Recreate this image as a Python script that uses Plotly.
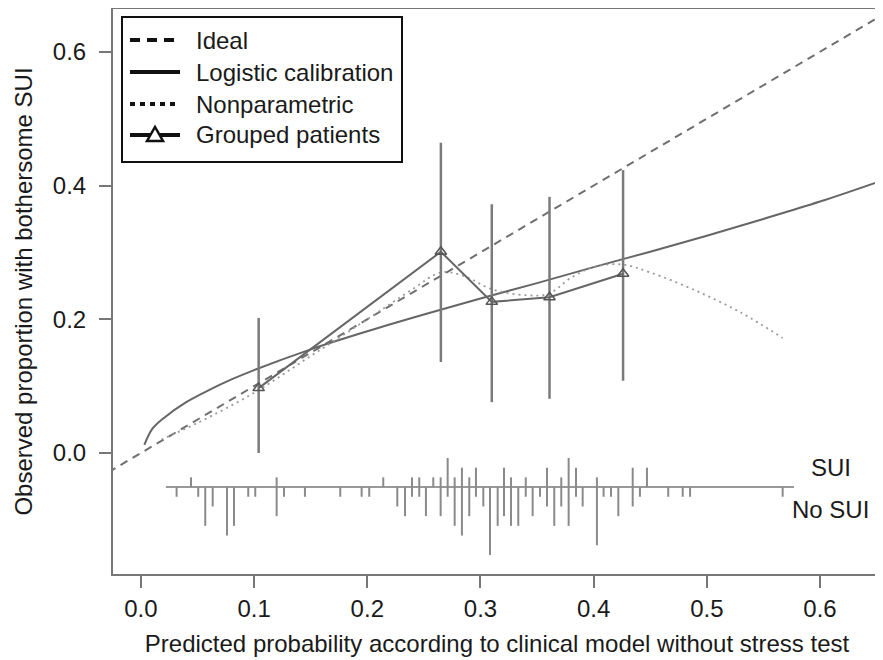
import plotly.graph_objects as go

# ---------------- data ----------------
ideal_x = [-0.05, 0.70]

logcal_x = [0.003, 0.01, 0.02, 0.04, 0.06, 0.08, 0.10, 0.15, 0.20, 0.25, 0.30,
            0.35, 0.40, 0.45, 0.50, 0.55, 0.60, 0.654]
logcal_y = [0.012, 0.036, 0.052, 0.076, 0.094, 0.110, 0.124, 0.155, 0.182, 0.207,
            0.231, 0.254, 0.278, 0.301, 0.325, 0.350, 0.376, 0.407]

nonpar_x = [0.018, 0.05, 0.10, 0.15, 0.20, 0.24, 0.265, 0.285, 0.31, 0.34, 0.36,
            0.38, 0.40, 0.425, 0.45, 0.49, 0.53, 0.567]
nonpar_y = [0.020, 0.045, 0.090, 0.145, 0.200, 0.245, 0.270, 0.265, 0.245, 0.236,
            0.238, 0.262, 0.278, 0.282, 0.270, 0.243, 0.210, 0.172]

group_x = [0.104, 0.265, 0.310, 0.361, 0.426]
group_y = [0.097, 0.301, 0.226, 0.233, 0.268]
group_lo = [0.000, 0.136, 0.076, 0.081, 0.108]
group_hi = [0.202, 0.464, 0.372, 0.383, 0.423]

# spike histogram of predicted probabilities: counts above (SUI) / below (No SUI)
spike_x = [0.0315, 0.0442, 0.0506, 0.0568, 0.0634, 0.0760, 0.0822, 0.0948, 0.1010,
           0.1199, 0.1264, 0.1449, 0.1761, 0.1950, 0.2017, 0.2141, 0.2265, 0.2333,
           0.2395, 0.2459, 0.2518, 0.2583, 0.2648, 0.2710, 0.2772, 0.2836, 0.2901,
           0.2960, 0.3025, 0.3084, 0.3152, 0.3208, 0.3270, 0.3334, 0.3400, 0.3461,
           0.3526, 0.3588, 0.3652, 0.3714, 0.3779, 0.3844, 0.3903, 0.4029, 0.4088,
           0.4153, 0.4218, 0.4345, 0.4409, 0.4471, 0.4659, 0.4787, 0.4852, 0.5670]
spike_up = [0, 1, 0, 0, 0, 0, 0, 0, 0,
            1, 0, 0, 0, 0, 0, 1, 0, 0,
            1, 1, 0, 1, 1, 3, 1, 2, 1,
            2, 0, 0, 0, 2, 1, 0, 1, 0,
            0, 2, 0, 1, 3, 2, 0, 1, 0,
            0, 0, 2, 0, 2, 0, 0, 0, 0]
spike_down = [1, 0, 1, 4, 2, 5, 4, 1, 1,
              3, 1, 1, 1, 1, 1, 0, 2, 3,
              1, 1, 3, 0, 3, 1, 4, 5, 3,
              1, 2, 7, 4, 3, 4, 4, 1, 3,
              1, 2, 4, 2, 4, 1, 2, 6, 1,
              1, 3, 2, 1, 0, 1, 1, 1, 1]
spike_range = [0.022, 0.577]
spike_base = -0.051
spike_unit = 0.0145

x_ticks = [0.0, 0.1, 0.2, 0.3, 0.4, 0.5, 0.6]
y_ticks = [0.0, 0.2, 0.4, 0.6]
x_title = "Predicted probability according to clinical model without stress test"
y_title = "Observed proportion with bothersome SUI"
legend_labels = ["Ideal", "Logistic calibration", "Nonparametric", "Grouped patients"]
event_labels = ["SUI", "No SUI"]

# ---------------- figure ----------------
FONT = "Liberation Sans, Arial, Helvetica, sans-serif"
TXT = "#1a1a1a"

fig = go.Figure()

# ideal line
fig.add_trace(go.Scatter(x=ideal_x, y=ideal_x, mode="lines",
                         line=dict(color="#707070", width=2, dash="8px,6px"),
                         showlegend=False, hoverinfo="skip"))
# logistic calibration
fig.add_trace(go.Scatter(x=logcal_x, y=logcal_y, mode="lines",
                         line=dict(color="#666666", width=2, shape="spline"),
                         showlegend=False))
# nonparametric
fig.add_trace(go.Scatter(x=nonpar_x, y=nonpar_y, mode="lines",
                         line=dict(color="#9a9a9a", width=1.8, dash="2px,4px", shape="spline"),
                         showlegend=False))
# grouped patients with CIs
fig.add_trace(go.Scatter(
    x=group_x, y=group_y, mode="lines+markers",
    line=dict(color="#666666", width=2),
    marker=dict(symbol="triangle-up-open", size=10, color="#555555",
                line=dict(width=1.5, color="#555555")),
    error_y=dict(type="data", symmetric=False,
                 array=[h - y for h, y in zip(group_hi, group_y)],
                 arrayminus=[y - l for l, y in zip(group_lo, group_y)],
                 color="#7a7a7a", thickness=2.5, width=0),
    showlegend=False))

# spike histogram
sx, sy = [], []
for x, u, d in zip(spike_x, spike_up, spike_down):
    if u or d:
        sx += [x, x, None]
        sy += [spike_base + u * spike_unit, spike_base - d * spike_unit, None]
fig.add_trace(go.Scatter(x=spike_range, y=[spike_base, spike_base], mode="lines",
                         line=dict(color="#777777", width=1.5),
                         showlegend=False, hoverinfo="skip"))
fig.add_trace(go.Scatter(x=sx, y=sy, mode="lines",
                         line=dict(color="#8a8a8a", width=2),
                         showlegend=False, hoverinfo="skip"))

# event labels
fig.add_annotation(x=0.6097, y=-0.021, text=event_labels[0], showarrow=False,
                   font=dict(size=24, color=TXT, family=FONT), xanchor="center", yanchor="middle")
fig.add_annotation(x=0.6097, y=-0.085, text=event_labels[1], showarrow=False,
                   font=dict(size=24, color=TXT, family=FONT), xanchor="center", yanchor="middle")

# ---------------- layout geometry ----------------
# the page places the figure 8px from the top-left corner (body margin)
OFF = 8
W, H = 883, 660
ML, MT = 113 - OFF, 9 - OFF
pw, ph = 768, 565
MR = W - ML - pw
MB = H - MT - ph


def px(xp):  # page pixel -> paper x
    return (xp - OFF - ML) / pw


def py(yp):  # page pixel -> paper y
    return (MT + ph - (yp - OFF)) / ph


# ---------------- manual legend (paper coordinates) ----------------
fig.add_shape(type="rect", xref="paper", yref="paper",
              x0=px(122), x1=px(402), y0=py(162), y1=py(17),
              line=dict(color="#111111", width=2), fillcolor="white")
rows = [40, 72, 104, 135]
dashes = ["10px,7px", "solid", "5px,5px", "solid"]
for lab, r, dsh in zip(legend_labels, rows, dashes):
    fig.add_shape(type="line", xref="paper", yref="paper",
                  x0=px(130), x1=px(180), y0=py(r), y1=py(r),
                  line=dict(color="#111111", width=4, dash=dsh))
    fig.add_annotation(xref="paper", yref="paper", x=px(194), y=py(r), text=lab,
                       showarrow=False, xanchor="left", yanchor="middle",
                       font=dict(size=24, color=TXT, family=FONT))
fig.add_shape(type="path", xref="paper", yref="paper",
              xsizemode="pixel", ysizemode="pixel",
              xanchor=px(155), yanchor=py(rows[3]),
              path="M-8,-6 L8,-6 L0,8 Z",
              line=dict(color="#111111", width=2.5), fillcolor="white")

axis_common = dict(showgrid=False, zeroline=False, showline=True, mirror=True,
                   linecolor="#777777", linewidth=2, ticks="outside", ticklen=12,
                   tickcolor="#777777", tickwidth=1.5, automargin=False,
                   tickfont=dict(size=24, color=TXT, family=FONT))

fig.update_layout(
    width=W, height=H, autosize=False,
    margin=dict(l=ML, r=MR, t=MT, b=MB),
    paper_bgcolor="white", plot_bgcolor="white",
    font=dict(family=FONT, color=TXT, size=24),
    xaxis=dict(range=[-0.0247, 0.6539], tickvals=x_ticks, tickformat=".1f",
               ticklabelstandoff=0,
               title=dict(text=x_title, font=dict(size=24, color=TXT, family=FONT), standoff=14),
               **axis_common),
    yaxis=dict(range=[-0.181, 0.664], tickvals=y_ticks, tickformat=".1f",
               ticklabelstandoff=8,
               title=dict(text=y_title, font=dict(size=24, color=TXT, family=FONT), standoff=13),
               **axis_common),
)

fig.write_html("out.html")
